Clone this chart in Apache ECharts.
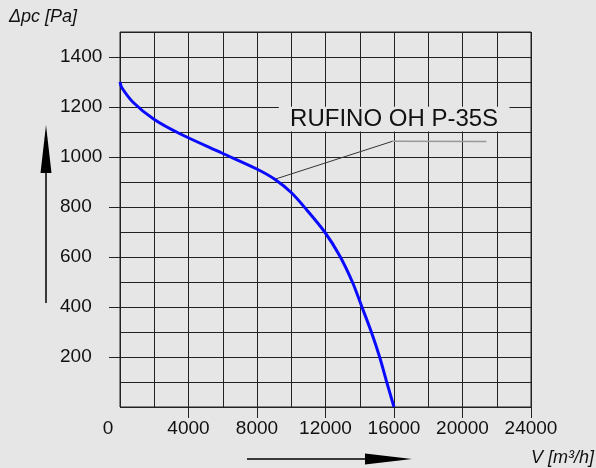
<!DOCTYPE html>
<html>
<head>
<meta charset="utf-8">
<script src="https://cdn.jsdelivr.net/npm/echarts@6/dist/echarts.min.js"></script>
<style>
html,body{margin:0;padding:0;background:#e6e6e6;}
#chart{width:596px;height:468px;}
</style>
</head>
<body>
<div id="chart"></div>
<script>
// Data
const flowValues = [0, 100, 776, 1982, 3499, 5948, 7988, 9038, 10012, 10886, 11954, 12828, 13569, 14128, 14677, 15161, 15552, 16000];
const pressureValues = [1300, 1278, 1218, 1151, 1093, 1016, 952, 911, 857, 790, 700, 605, 500, 400, 300, 200, 105, 0];
const leaderFlow = [9038, 15918];
const leaderPressure = [911, 1063];
const tailFlow = [15918, 21400];
const tailPressure = [1063, 1062];
const xTickLabels = [0, 4000, 8000, 12000, 16000, 20000, 24000];
const xTicks = [4000, 8000, 12000, 16000, 20000, 24000];
const yTickLabels = [200, 400, 600, 800, 1000, 1200, 1400];
const seriesName = 'RUFINO OH P-35S';
const labelBox = [[9270, 1201], [22740, 1102]];

const zip = (a, b) => a.map((v, i) => [v, b[i]]);
const gridColor = '#222';
const textColor = '#111';
const font = 'Liberation Sans, Arial, sans-serif';

const gridAxisX = {
  type: 'value', min: 0, max: 24000, interval: 2000,
  axisLine: { show: false }, axisTick: { show: false }, axisLabel: { show: false },
  splitLine: { show: true, lineStyle: { color: gridColor, width: 1 } }
};
const gridAxisY = {
  type: 'value', min: 0, max: 1500, interval: 100,
  axisLine: { show: false }, axisTick: { show: false }, axisLabel: { show: false },
  splitLine: { show: true, lineStyle: { color: gridColor, width: 1 } }
};

const chart = echarts.init(document.getElementById('chart'));
chart.setOption({
  backgroundColor: '#e6e6e6',
  animation: false,
  grid: { left: 120, top: 32, right: 65, bottom: 61, show: true, borderColor: gridColor, borderWidth: 1 },
  xAxis: [{
    type: 'value', min: 0, max: 24000, interval: 2000,
    axisLine: { show: false },
    splitLine: { show: false },
    axisTick: { show: true, length: 11, customValues: xTicks, lineStyle: { color: gridColor } },
    axisLabel: {
      customValues: xTickLabels, margin: 12, fontSize: 19, fontFamily: font, color: textColor,
      formatter: v => v === 0 ? '{z|0}' : String(v),
      rich: { z: { fontSize: 19, fontFamily: font, color: textColor, padding: [0, 24, 0, 0] } }
    }
  }, gridAxisX],
  yAxis: [{
    type: 'value', min: 0, max: 1500, interval: 100,
    axisLine: { show: false },
    splitLine: { show: false },
    axisTick: { show: true, length: 11, customValues: yTickLabels, lineStyle: { color: gridColor } },
    axisLabel: {
      customValues: yTickLabels, margin: 60, align: 'left', fontSize: 19, fontFamily: font, color: textColor,
      padding: [0, 0, 8, 0], formatter: v => String(v)
    }
  }, gridAxisY],
  series: [
    {
      type: 'line', name: 'leader', data: zip(leaderFlow, leaderPressure), symbol: 'none',
      lineStyle: { color: '#333', width: 1 }, z: 3, silent: true
    },
    {
      type: 'line', name: 'tail', data: zip(tailFlow, tailPressure), symbol: 'none',
      lineStyle: { color: '#999', width: 1.5 }, z: 3, silent: true,
      markArea: {
        silent: true,
        itemStyle: { color: '#e6e6e6', opacity: 1 },
        label: { show: true, position: 'inside', fontSize: 24, fontFamily: font, color: textColor },
        data: [[{ name: seriesName, coord: labelBox[0] }, { coord: labelBox[1] }]]
      }
    },
    {
      type: 'line', name: seriesName, data: zip(flowValues, pressureValues), symbol: 'none',
      smooth: 0.3,
      lineStyle: { color: '#0a0aff', width: 3 }, z: 4
    }
  ],
  graphic: [
    { type: 'text', left: 9, top: 8, style: { text: 'Δpc [Pa]', fontSize: 18, fontStyle: 'italic', fontFamily: font, fill: textColor } },
    { type: 'text', right: 2, top: 449, style: { text: 'V [m³/h]', fontSize: 18, fontStyle: 'italic', fontFamily: font, fill: textColor } },
    { type: 'line', shape: { x1: 46, y1: 303, x2: 46, y2: 170 }, style: { stroke: '#000', lineWidth: 1.5 } },
    { type: 'polygon', shape: { points: [[46, 125], [40.5, 173], [51.5, 173]] }, style: { fill: '#000' } },
    { type: 'line', shape: { x1: 247, y1: 459, x2: 368, y2: 459 }, style: { stroke: '#000', lineWidth: 1.5 } },
    { type: 'polygon', shape: { points: [[365, 453.5], [412, 459], [365, 464.5]] }, style: { fill: '#000' } }
  ]
});
</script>
</body>
</html>
